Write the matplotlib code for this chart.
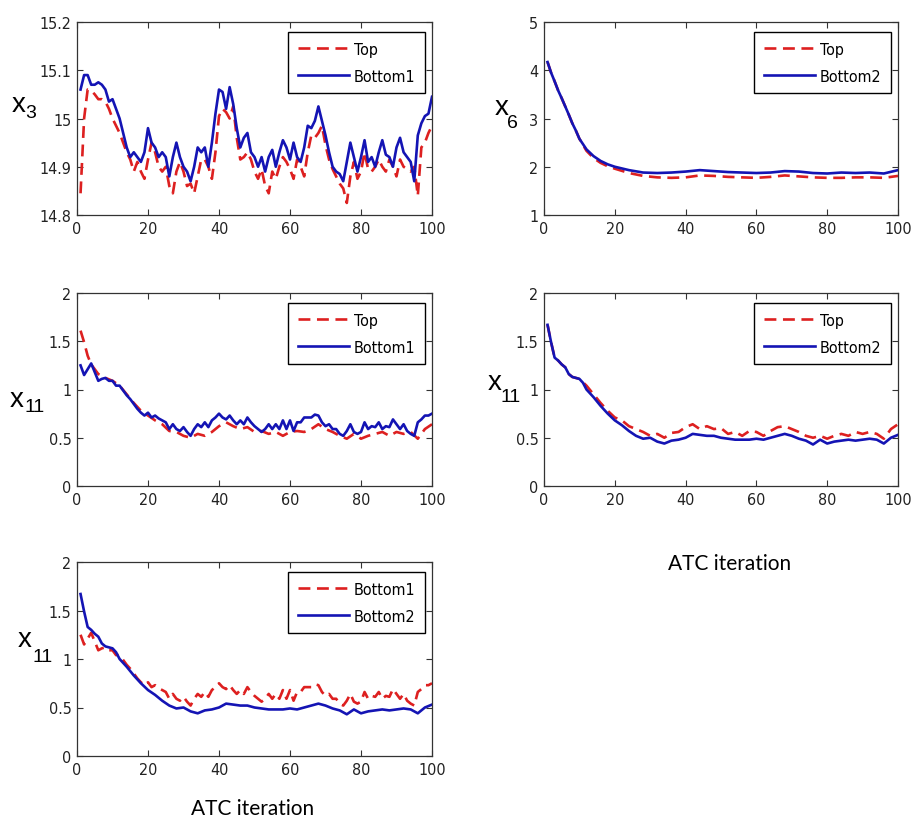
import matplotlib
matplotlib.use("Agg")
import matplotlib.pyplot as plt

# MATLAB figure look: narrow sans for ticks / legends
plt.rcParams['font.family'] = ['DejaVu Sans']
plt.rcParams['font.stretch'] = 'condensed'

#%% data (ATC iteration vs design variable)

it100 = list(range(1, 101))

x3_top = [14.845, 15.0, 15.06, 15.058, 15.05, 15.04, 15.04, 15.035, 15.02, 15.0,
          14.985, 14.97, 14.95, 14.93, 14.915, 14.89, 14.91, 14.89, 14.875, 14.915,
          14.95, 14.93, 14.9, 14.89, 14.9, 14.86, 14.845, 14.89, 14.91, 14.89,
          14.86, 14.865, 14.845, 14.88, 14.915, 14.915, 14.9, 14.875, 14.93, 15.005,
          15.02, 15.013, 15.0, 15.025, 14.96, 14.915, 14.92, 14.93, 14.915, 14.89,
          14.875, 14.895, 14.86, 14.845, 14.89, 14.875, 14.9, 14.92, 14.91, 14.895,
          14.875, 14.915, 14.9, 14.88, 14.93, 14.965, 14.96, 14.97, 14.985, 14.945,
          14.915, 14.895, 14.88, 14.865, 14.855, 14.825, 14.88, 14.91, 14.875, 14.89,
          14.93, 14.895, 14.89, 14.9, 14.915, 14.9, 14.89, 14.915, 14.9, 14.88,
          14.915, 14.9, 14.895, 14.89, 14.9, 14.84, 14.94, 14.95, 14.97, 14.985]

x3_bottom1 = [15.06, 15.09, 15.09, 15.07, 15.07, 15.075, 15.07, 15.06, 15.035, 15.04,
              15.02, 15.0, 14.97, 14.94, 14.92, 14.93, 14.92, 14.91, 14.93, 14.98,
              14.95, 14.94, 14.92, 14.93, 14.92, 14.88, 14.92, 14.95, 14.92, 14.90,
              14.89, 14.87, 14.90, 14.94, 14.93, 14.94, 14.90, 14.95, 15.01, 15.06,
              15.055, 15.02, 15.065, 15.03, 14.98, 14.94, 14.96, 14.97, 14.93, 14.92,
              14.90, 14.92, 14.89, 14.92, 14.935, 14.90, 14.93, 14.955, 14.94, 14.915,
              14.95, 14.92, 14.91, 14.94, 14.985, 14.98, 14.995, 15.025, 14.995, 14.965,
              14.93, 14.90, 14.89, 14.885, 14.87, 14.91, 14.95, 14.92, 14.89, 14.92,
              14.955, 14.91, 14.92, 14.90, 14.93, 14.955, 14.925, 14.92, 14.90, 14.94,
              14.96, 14.93, 14.92, 14.91, 14.87, 14.965, 14.99, 15.005, 15.01, 15.045]

it_x6 = [1, 2, 3, 4, 5, 6, 7, 8, 9, 10, 12, 14, 16, 18, 20, 24, 28, 32, 36, 40,
         44, 48, 52, 56, 60, 64, 68, 72, 76, 80, 84, 88, 92, 96, 100]
x6_top = [4.17, 3.95, 3.77, 3.58, 3.42, 3.25, 3.08, 2.9, 2.75, 2.58, 2.33, 2.18,
          2.08, 2.01, 1.96, 1.87, 1.81, 1.78, 1.77, 1.78, 1.82, 1.81, 1.79, 1.78,
          1.77, 1.79, 1.82, 1.8, 1.78, 1.77, 1.77, 1.78, 1.78, 1.77, 1.81]
x6_bottom2 = [4.17, 3.95, 3.77, 3.58, 3.42, 3.25, 3.08, 2.9, 2.75, 2.58, 2.36, 2.22,
              2.12, 2.05, 2.0, 1.93, 1.88, 1.87, 1.88, 1.9, 1.93, 1.91, 1.89, 1.88,
              1.87, 1.88, 1.91, 1.9, 1.87, 1.86, 1.88, 1.87, 1.88, 1.86, 1.93]

x11_bottom1 = [1.25, 1.15, 1.21, 1.27, 1.18, 1.09, 1.11, 1.12, 1.09, 1.09,
               1.04, 1.04, 0.99, 0.94, 0.90, 0.85, 0.80, 0.76, 0.73, 0.76,
               0.71, 0.73, 0.70, 0.68, 0.66, 0.59, 0.64, 0.59, 0.57, 0.61,
               0.56, 0.52, 0.59, 0.64, 0.61, 0.66, 0.61, 0.68, 0.71, 0.75,
               0.71, 0.69, 0.73, 0.68, 0.64, 0.68, 0.64, 0.71, 0.66, 0.62,
               0.59, 0.56, 0.59, 0.64, 0.59, 0.64, 0.59, 0.68, 0.59, 0.68,
               0.57, 0.66, 0.66, 0.71, 0.71, 0.71, 0.74, 0.73, 0.66, 0.62,
               0.64, 0.59, 0.59, 0.54, 0.52, 0.57, 0.64, 0.56, 0.54, 0.56,
               0.66, 0.59, 0.62, 0.61, 0.66, 0.59, 0.62, 0.61, 0.69, 0.64,
               0.59, 0.64, 0.57, 0.54, 0.52, 0.66, 0.69, 0.73, 0.73, 0.75]

it_x11 = [1, 2, 3, 4, 5, 6, 7, 8, 10, 12] + list(range(14, 101, 2))
x11_top_a = [1.61, 1.49, 1.35, 1.26, 1.21, 1.16, 1.14, 1.12, 1.09, 1.04,
             0.95, 0.86, 0.78, 0.73, 0.68, 0.64, 0.57, 0.56, 0.52, 0.50,
             0.54, 0.52, 0.56, 0.62, 0.66, 0.62, 0.59, 0.61, 0.56, 0.57,
             0.54, 0.56, 0.52, 0.56, 0.57, 0.56, 0.59, 0.64, 0.59, 0.56,
             0.52, 0.49, 0.54, 0.49, 0.52, 0.54, 0.56, 0.52, 0.56, 0.54,
             0.56, 0.49, 0.59, 0.64]
x11_top_b = [1.67, 1.49, 1.33, 1.30, 1.26, 1.23, 1.16, 1.13, 1.11, 1.04,
             0.95, 0.86, 0.78, 0.71, 0.68, 0.62, 0.59, 0.56, 0.52, 0.54,
             0.50, 0.55, 0.56, 0.61, 0.64, 0.59, 0.62, 0.59, 0.60, 0.54,
             0.56, 0.52, 0.57, 0.56, 0.52, 0.57, 0.61, 0.62, 0.59, 0.56,
             0.52, 0.50, 0.52, 0.49, 0.52, 0.54, 0.52, 0.56, 0.54, 0.56,
             0.54, 0.49, 0.59, 0.64]

it_b2 = list(range(1, 13)) + list(range(14, 101, 2))
x11_bottom2 = [1.67, 1.49, 1.33, 1.30, 1.26, 1.23, 1.16, 1.13, 1.12, 1.11, 1.07, 1.0,
               0.92, 0.83, 0.75, 0.68, 0.63, 0.57, 0.52, 0.49, 0.50, 0.46,
               0.44, 0.47, 0.48, 0.50, 0.54, 0.53, 0.52, 0.52, 0.50, 0.49,
               0.48, 0.48, 0.48, 0.49, 0.48, 0.50, 0.52, 0.54, 0.52, 0.49,
               0.47, 0.43, 0.48, 0.44, 0.46, 0.47, 0.48, 0.47, 0.48, 0.49,
               0.48, 0.44, 0.50, 0.53]

#%% figure layout (pixel boxes of the original MATLAB subplots)

W, H = 911, 820
fig = plt.figure(figsize=(W / 100, H / 100), dpi=100)
RED = '#dd2020'
BLUE = '#1414b4'

def make_ax(l, t, r, b):
    return fig.add_axes([l / W, 1 - b / H, (r - l) / W, (b - t) / H])

def style(ax, yticks, ylabels):
    ax.set_xlim(0, 100)
    ax.set_xticks(range(0, 101, 20))
    ax.set_ylim(yticks[0], yticks[-1])
    ax.set_yticks(yticks)
    ax.set_yticklabels(ylabels)
    ax.tick_params(direction='in', top=True, right=True, length=4, width=0.8,
                   labelsize=11.5, pad=4, color='#333333', labelcolor='#222222')
    for s in ax.spines.values():
        s.set_linewidth(0.9)
        s.set_color('#333333')

def draw(ax, xr, yr, lr, xb, yb, lb):
    ax.plot(xr, yr, '--', color=RED, lw=1.9, dashes=(4.5, 2.5), label=lr)
    ax.plot(xb, yb, '-', color=BLUE, lw=1.9, label=lb)
    leg = ax.legend(loc='upper right', bbox_to_anchor=(0.98, 0.948), borderaxespad=0,
                    fontsize=11.5, handlelength=3.2, handletextpad=0.3, labelspacing=0.75,
                    borderpad=0.6, fancybox=False, edgecolor='black', framealpha=1)
    leg.get_frame().set_linewidth(1.0)

def ylab(xl, bl, sub, xs, bs):
    fig.text(xl / W, 1 - bl / H, 'x', fontsize=20, va='baseline', ha='left',
             family='Liberation Sans', stretch='normal')
    fig.text(xs / W, 1 - bs / H, sub, fontsize=14, va='baseline', ha='left',
             family='Liberation Sans', stretch='normal')

ax1 = make_ax(77, 23, 432, 216)
draw(ax1, it100, x3_top, 'Top', it100, x3_bottom1, 'Bottom1')
style(ax1, [14.8, 14.9, 15.0, 15.1, 15.2], ['14.8', '14.9', '15', '15.1', '15.2'])
ylab(12, 112, '3', 25, 118)

ax2 = make_ax(544, 23, 898, 216)
draw(ax2, it_x6, x6_top, 'Top', it_x6, x6_bottom2, 'Bottom2')
style(ax2, [1, 2, 3, 4, 5], ['1', '2', '3', '4', '5'])
ylab(495, 115, '6', 507, 128)

half = [0, 0.5, 1, 1.5, 2]
half_lab = ['0', '0.5', '1', '1.5', '2']

ax3 = make_ax(77, 294, 432, 487)
draw(ax3, it_x11, x11_top_a, 'Top', it100, x11_bottom1, 'Bottom1')
style(ax3, half, half_lab)
ylab(10, 407, '11', 24, 412)

ax4 = make_ax(544, 294, 898, 487)
draw(ax4, it_x11, x11_top_b, 'Top', it_b2, x11_bottom2, 'Bottom2')
style(ax4, half, half_lab)
ylab(488, 390, '11', 500, 402)

ax5 = make_ax(77, 563, 432, 757)
draw(ax5, it100, x11_bottom1, 'Bottom1', it_b2, x11_bottom2, 'Bottom2')
style(ax5, half, half_lab)
ylab(18, 647, '11', 32, 662)

fig.text(730 / W, 1 - 570 / H, 'ATC iteration', family='Lato', stretch='normal',
         fontsize=15, ha='center', va='baseline')
fig.text(253 / W, 1 - 815 / H, 'ATC iteration', family='Lato', stretch='normal',
         fontsize=15, ha='center', va='baseline')

fig.savefig('out.png', dpi=100)
